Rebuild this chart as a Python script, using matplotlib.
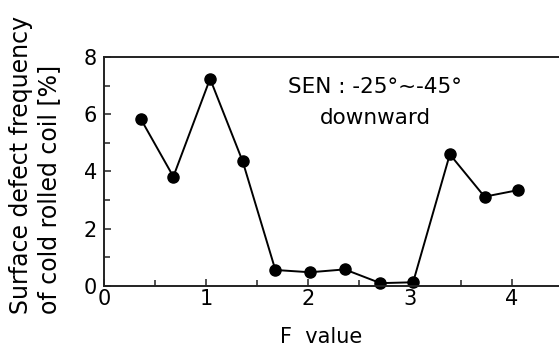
import matplotlib.pyplot as plt
from matplotlib.ticker import MultipleLocator

# F value vs surface defect frequency
f_value = [0.36, 0.68, 1.04, 1.36, 1.68, 2.02, 2.36, 2.71, 3.03, 3.39, 3.73, 4.06]
defect_freq = [5.84, 3.82, 7.24, 4.35, 0.56, 0.48, 0.58, 0.10, 0.13, 4.60, 3.12, 3.35]

x_ticks = [0, 1, 2, 3, 4]
x_tick_labels = ["0", "1", "2", "3", "4"]
y_ticks = [0, 2, 4, 6, 8]

plt.rcParams['font.family'] = ['DejaVu Sans']

fig = plt.figure(figsize=(5.59, 3.49), dpi=100)
ax = fig.add_axes([0.186, 0.1805, 0.814, 0.6562])

ax.plot(f_value, defect_freq, color='black', lw=1.4, marker='o', ms=8,
        markerfacecolor='black', markeredgecolor='black', clip_on=False)

ax.set_xlim(0, 4.46)
ax.set_ylim(0, 8)
ax.set_xticks(x_ticks)
ax.set_xticklabels(x_tick_labels)
ax.set_yticks(y_ticks)
ax.xaxis.set_minor_locator(MultipleLocator(0.5))
ax.yaxis.set_minor_locator(MultipleLocator(1))
ax.tick_params(which='both', direction='in', top=False, right=False,
               labelsize=15, width=1.2, color='#333333')
ax.tick_params(which='major', length=5)
ax.tick_params(which='minor', length=4)
ax.tick_params(axis='x', pad=2)
ax.tick_params(axis='y', pad=5)

ax.spines['right'].set_visible(False)
for s in ['left', 'bottom', 'top']:
    ax.spines[s].set_linewidth(1.4)
    ax.spines[s].set_color('#222222')

ax.set_xlabel("F  value", fontsize=15)
ax.xaxis.set_label_coords(0.477, -0.18)
ax.set_ylabel("Surface defect frequency\nof cold rolled coil [%]", fontsize=17,
              linespacing=1.2, multialignment='left')
ax.yaxis.set_label_coords(-0.095, 0.528)

ax.text(2.66, 6.96, "SEN : -25°~-45°", fontsize=15.5, ha='center', va='center')
ax.text(2.66, 5.87, "downward", fontsize=15.5, ha='center', va='center')

plt.savefig("out.png", dpi=100)
